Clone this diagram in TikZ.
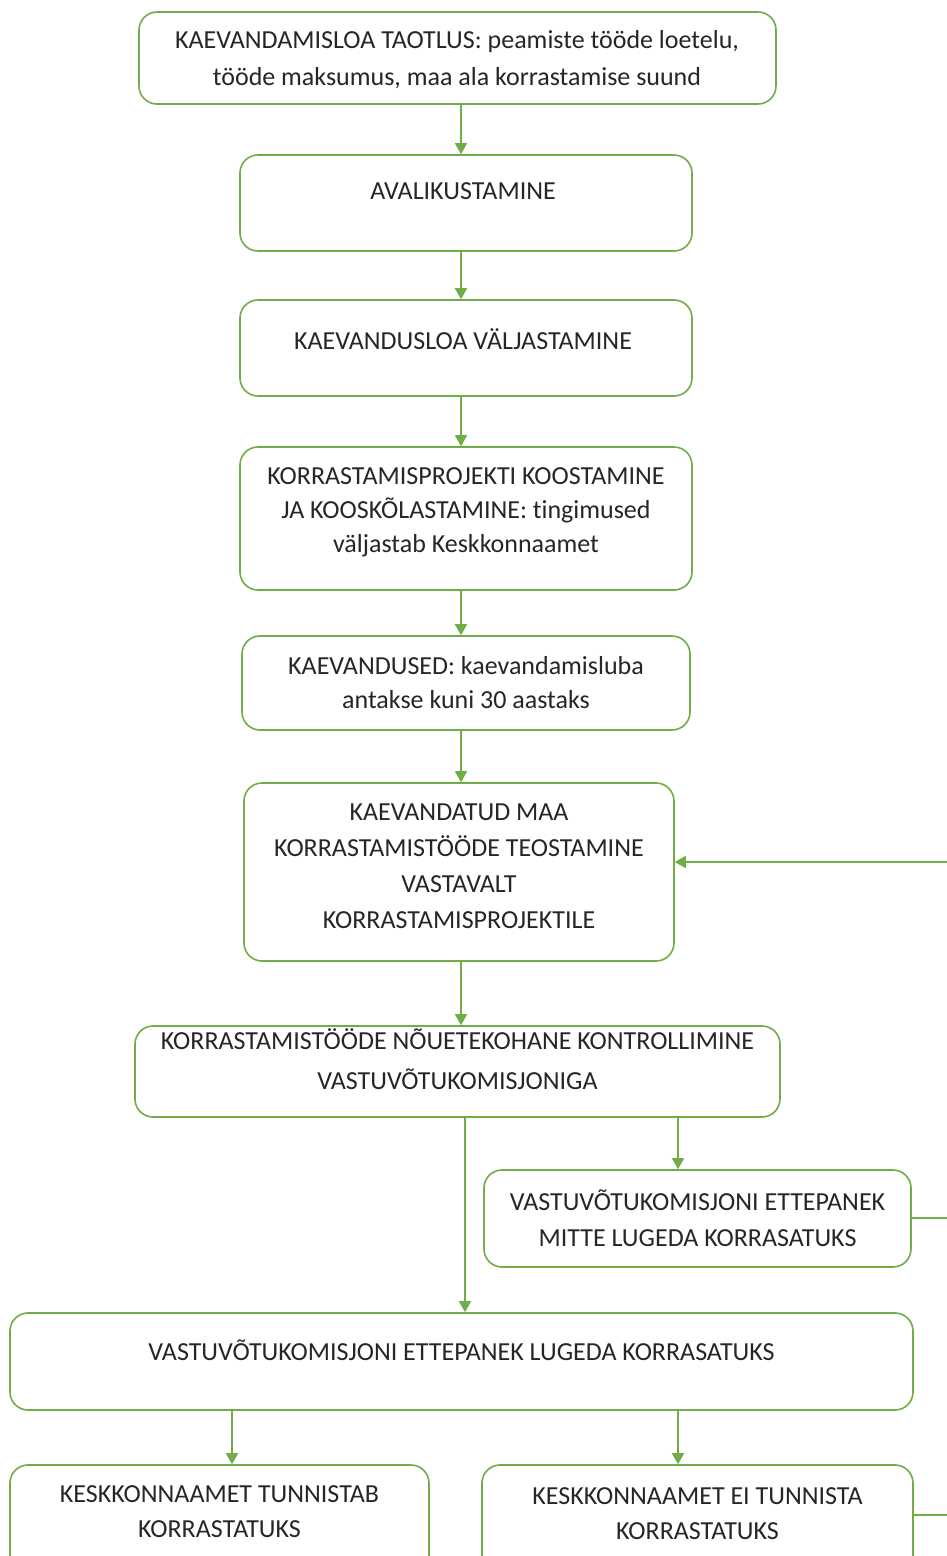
\documentclass[tikz,border=0pt]{standalone}
\usepackage{fontspec}
\setmainfont{Carlito}[Ligatures={NoCommon}]
\usetikzlibrary{arrows.meta}
\definecolor{grn}{HTML}{70AD47}
\definecolor{txtc}{HTML}{262626}
\tikzset{
  box/.style={draw=grn, line width=1.6pt, rounded corners=18pt, inner sep=0pt},
  txt/.style={text=txtc, align=center, inner sep=0pt},
  arr/.style={draw=grn, line width=1.6pt, -{Triangle[width=12pt,length=11pt]}},
  ln/.style={draw=grn, line width=1.6pt}
}
\begin{document}
\begin{tikzpicture}[x=1pt,y=-1pt]
\useasboundingbox (0,0) rectangle (947,1556);
\clip (0,0) rectangle (947,1556);
\fill[white] (0,0) rectangle (947,1556);
\coordinate (sp) at (461,0);
\coordinate (sq) at (678,0);
\coordinate (sr) at (465,0);
\coordinate (ss) at (232,0);
% boxes
\node[box, minimum width=637pt, minimum height=92pt] (b1) at (457.5,58) {};
\node[box, minimum width=452pt, minimum height=96pt] (b2) at (466,203) {};
\node[box, minimum width=452pt, minimum height=96pt] (b3) at (466,348) {};
\node[box, minimum width=452pt, minimum height=143pt] (b4) at (466,518.5) {};
\node[box, minimum width=448pt, minimum height=94pt] (b5) at (466,683) {};
\node[box, minimum width=430pt, minimum height=178pt] (b6) at (459,872) {};
\node[box, minimum width=645pt, minimum height=91pt] (b7) at (457.5,1071.5) {};
\node[box, minimum width=427pt, minimum height=97pt] (b8) at (697.5,1218.5) {};
\node[box, minimum width=903pt, minimum height=97pt] (b9) at (461.5,1361.5) {};
\node[box, minimum width=419pt, minimum height=120pt] (b10) at (219.5,1525) {};
\node[box, minimum width=431pt, minimum height=120pt] (b11) at (697.5,1525) {};
% texts
\node[txt, font={\fontsize{26}{37}\selectfont}] (t1) at (457,60) {KAEVANDAMISLOA TAOTLUS: peamiste tööde loetelu,\\tööde maksumus, maa ala korrastamise suund};
\node[txt, font={\fontsize{26}{30}\selectfont}] (t2) at (463,191) {AVALIKUSTAMINE};
\node[txt, font={\fontsize{26}{30}\selectfont}] (t3) at (463,339) {KAEVANDUSLOA VÄLJASTAMINE};
\node[txt, font={\fontsize{26}{34}\selectfont}] (t4) at (466,512) {KORRASTAMISPROJEKTI KOOSTAMINE\\JA KOOSKÕLASTAMINE: tingimused\\väljastab Keskkonnaamet};
\node[txt, font={\fontsize{26}{34}\selectfont}] (t5) at (466,683) {KAEVANDUSED: kaevandamisluba\\antakse kuni 30 aastaks};
\node[txt, font={\fontsize{26}{36}\selectfont}] (t6) at (459,866) {KAEVANDATUD MAA\\KORRASTAMISTÖÖDE TEOSTAMINE\\VASTAVALT\\KORRASTAMISPROJEKTILE};
\node[txt, font={\fontsize{26}{40}\selectfont}] (t7) at (457.5,1059) {KORRASTAMISTÖÖDE NÕUETEKOHANE KONTROLLIMINE\\VASTUVÕTUKOMISJONIGA};
\node[txt, font={\fontsize{26}{36}\selectfont}] (t8) at (697.5,1218) {VASTUVÕTUKOMISJONI ETTEPANEK\\MITTE LUGEDA KORRASATUKS};
\node[txt, font={\fontsize{26}{30}\selectfont}] (t9) at (461.5,1350) {VASTUVÕTUKOMISJONI ETTEPANEK LUGEDA KORRASATUKS};
\node[txt, font={\fontsize{26}{35}\selectfont}] (t10) at (219.5,1512) {KESKKONNAAMET TUNNISTAB\\KORRASTATUKS};
\node[txt, font={\fontsize{26}{35}\selectfont}] (t11) at (697.5,1514) {KESKKONNAAMET EI TUNNISTA\\KORRASTATUKS};
% connectors
\draw[arr] (b1.south -| sp) -- (b2.north -| sp);
\draw[arr] (b2.south -| sp) -- (b3.north -| sp);
\draw[arr] (b3.south -| sp) -- (b4.north -| sp);
\draw[arr] (b4.south -| sp) -- (b5.north -| sp);
\draw[arr] (b5.south -| sp) -- (b6.north -| sp);
\draw[arr] (b6.south -| sp) -- (b7.north -| sp);
\draw[arr] (b7.south -| sq) -- (b8.north -| sq);
\draw[arr] (b7.south -| sr) -- (b9.north -| sr);
\draw[arr] (b9.south -| ss) -- (b10.north -| ss);
\draw[arr] (b9.south -| sq) -- (b11.north -| sq);
% feedback lines to the right edge
\coordinate (e1) at (947,862);
\coordinate (e2) at (947,1218);
\coordinate (e3) at (947,1515);
\draw[arr] (e1) -- (e1 -| b6.east);
\draw[ln] (b8.east |- e2) -- (e2);
\draw[ln] (b11.east |- e3) -- (e3);
\end{tikzpicture}
\end{document}
